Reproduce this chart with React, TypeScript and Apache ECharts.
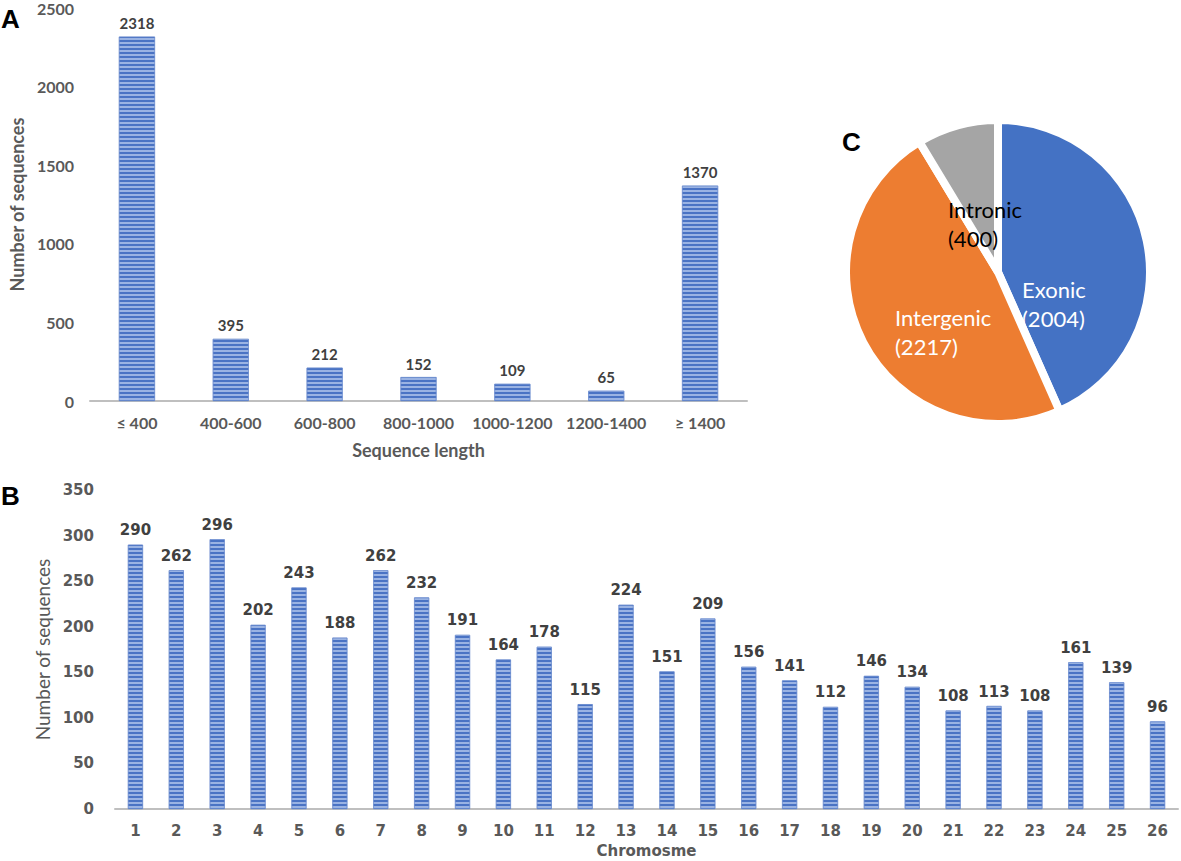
import React, { useEffect, useRef } from "react";
import * as echarts from "echarts";

const lengthCats = ["≤ 400", "400-600", "600-800", "800-1000", "1000-1200", "1200-1400", "≥ 1400"];
const lengthVals = [2318, 395, 212, 152, 109, 65, 1370];

const chromCats = ["1","2","3","4","5","6","7","8","9","10","11","12","13","14","15","16","17","18","19","20","21","22","23","24","25","26"];
const chromVals = [290, 262, 296, 202, 243, 188, 262, 232, 191, 164, 178, 115, 224, 151, 209, 156, 141, 112, 146, 134, 108, 113, 108, 161, 139, 96];

const regionNames = ["Exonic", "Intergenic", "Intronic"];
const regionVals = [2004, 2217, 400];
const regionColors = ["#4472c4", "#ed7d31", "#a5a5a5"];
const regionLabelColors = ["#ffffff", "#ffffff", "#000000"];

const stripe = {
  color: "#9ab3e3",
  borderColor: "#6f8fd0",
  borderWidth: 0.6,
  decal: {
    symbol: "rect",
    symbolSize: 1,
    dashArrayX: [[1, 0]],
    dashArrayY: [1.2, 1.2],
    color: "#4a73c4",
    rotation: 0,
  },
};

export default function App() {
  const ref = useRef<HTMLDivElement>(null);
  useEffect(() => {
    document.body.style.margin = "0";
    const chart = echarts.init(ref.current!, null, { renderer: "svg" });
    const labelPos: Record<number, [number, number]> = {
      0: [1022, 304],
      1: [895, 332],
      2: [948, 224],
    };
    const plain = (v: number) => String(v);
    chart.setOption({
      animation: false,
      backgroundColor: "#ffffff",
      graphic: [
        { type: "text", left: 1, top: 6, style: { text: "A", font: "bold 26px 'Liberation Sans', Arial", fill: "#000" } },
        { type: "text", left: 1, top: 483, style: { text: "B", font: "bold 26px 'Liberation Sans', Arial", fill: "#000" } },
        { type: "text", left: 842, top: 129, style: { text: "C", font: "bold 26px 'Liberation Sans', Arial", fill: "#000" } },
      ],
      grid: [
        { left: 77, top: 8, width: 670, height: 393 },
        { left: 115, top: 490, width: 1063, height: 319 },
      ],
      xAxis: [
        {
          gridIndex: 0,
          type: "category",
          data: lengthCats,
          axisLine: { lineStyle: { color: "#bfbfbf", width: 2 } },
          axisTick: { show: false },
          axisLabel: { interval: 0, margin: 13, color: "#595959", fontFamily: "Lato", fontWeight: "bold", fontSize: 16 },
          name: "Sequence length",
          nameLocation: "middle",
          nameGap: 40,
          nameTextStyle: { color: "#595959", fontFamily: "Lato", fontWeight: "bold", fontSize: 18 },
        },
        {
          gridIndex: 1,
          type: "category",
          data: chromCats,
          axisLine: { lineStyle: { color: "#bfbfbf", width: 2 } },
          axisTick: { show: false },
          axisLabel: { interval: 0, margin: 14, color: "#595959", fontFamily: "DejaVu Sans", fontWeight: "bold", fontSize: 15 },
          name: "Chromosme",
          nameLocation: "middle",
          nameGap: 34,
          nameTextStyle: { color: "#595959", fontFamily: "DejaVu Sans", fontWeight: "bold", fontSize: 15 },
        },
      ],
      yAxis: [
        {
          gridIndex: 0,
          type: "value",
          min: 0,
          max: 2500,
          interval: 500,
          splitLine: { show: false },
          axisLine: { show: false },
          axisTick: { show: false },
          axisLabel: { margin: 16, formatter: plain, color: "#595959", fontFamily: "Lato", fontWeight: "bold", fontSize: 16 },
          name: "Number of sequences",
          nameLocation: "middle",
          nameGap: 59,
          nameTextStyle: { color: "#595959", fontFamily: "Lato", fontWeight: "bold", fontSize: 18 },
        },
        {
          gridIndex: 1,
          type: "value",
          min: 0,
          max: 350,
          interval: 50,
          splitLine: { show: false },
          axisLine: { show: false },
          axisTick: { show: false },
          axisLabel: { margin: 21, formatter: plain, color: "#595959", fontFamily: "DejaVu Sans", fontWeight: "bold", fontSize: 15 },
          name: "Number of sequences",
          nameLocation: "middle",
          nameGap: 63,
          nameTextStyle: { color: "#595959", fontFamily: "Lato", fontSize: 19 },
        },
      ],
      series: [
        {
          type: "bar",
          xAxisIndex: 0,
          yAxisIndex: 0,
          data: lengthVals,
          barWidth: 36,
          itemStyle: stripe,
          label: { show: true, position: "top", distance: 6, color: "#404040", fontFamily: "Lato", fontWeight: "bold", fontSize: 15 },
        },
        {
          type: "bar",
          xAxisIndex: 1,
          yAxisIndex: 1,
          data: chromVals,
          barWidth: 15,
          itemStyle: stripe,
          label: { show: true, position: "top", distance: 7, color: "#404040", fontFamily: "DejaVu Sans", fontWeight: "bold", fontSize: 15 },
        },
        {
          type: "pie",
          center: [998, 272],
          radius: [0, 152],
          startAngle: 90,
          clockwise: true,
          data: regionNames.map((n, i) => ({
            name: n,
            value: regionVals[i],
            itemStyle: { color: regionColors[i] },
            label: { color: regionLabelColors[i] },
          })),
          itemStyle: { borderColor: "#ffffff", borderWidth: 8 },
          label: {
            show: true,
            position: "inside",
            formatter: "{b}\n({c})",
            fontFamily: "Lato",
            fontSize: 22,
            lineHeight: 29,
            align: "left",
          },
          labelLine: { show: false },
          labelLayout: (p: any) => ({
            x: labelPos[p.dataIndex][0],
            y: labelPos[p.dataIndex][1],
            align: "left",
            verticalAlign: "middle",
          }),
        },
      ],
    });
    return () => chart.dispose();
  }, []);
  return <div ref={ref} style={{ width: 1181, height: 861 }} />;
}
